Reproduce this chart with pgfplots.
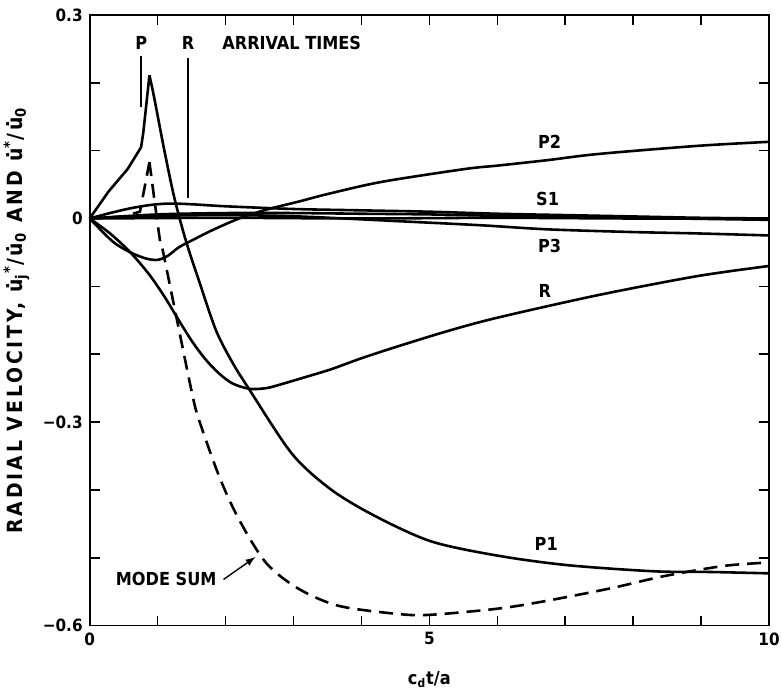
\documentclass[border=0pt]{standalone}
\usepackage{pgfplots}
\pgfplotsset{compat=1.18}
\usepackage{fontspec}
\setmainfont{DejaVu Sans Condensed}[BoldFont={DejaVu Sans Condensed Bold}]
\begin{document}
\begin{tikzpicture}
\begin{axis}[
    scale only axis,
    width=341pt, height=306.5pt,
    xmin=0, xmax=10, ymin=-0.6, ymax=0.3,
    xtick={0,5,10}, minor xtick={1,2,3,4,6,7,8,9},
    ytick={-0.6,-0.3,0,0.3}, minor ytick={-0.5,-0.4,-0.2,-0.1,0.1,0.2},
    yticklabels={−0.6,−0.3,0,0.3},
    tick pos=both, tick align=inside,
    major tick length=5pt, minor tick length=5pt,
    tick style={black, line width=0.8pt},
    axis line style={line width=0.9pt},
    font=\fontsize{9}{10}\selectfont\bfseries,
    ticklabel style={font=\fontsize{8.5}{10}\selectfont\bfseries},
    /pgf/number format/assume math mode=true,
    xlabel={c\textsubscript{d}t/a},
    xlabel style={yshift=-6pt},
    ylabel={\addfontfeature{LetterSpace=14}RADIAL VELOCITY, \.{u}\textsubscript{j}\textsuperscript{*}/\.{u}\textsubscript{0} AND \.{u}\textsuperscript{*}/\.{u}\textsubscript{0}},
    ylabel style={font=\fontsize{10.5}{12}\selectfont\bfseries},
    clip=false,
]
% P1 mode
\addplot[black, line width=1.3pt] coordinates {(0,0) (0.28,0.04) (0.56,0.073) (0.757,0.105) (0.79,0.127) (0.88,0.211)};
\addplot[black, line width=1.3pt, smooth, tension=0.5] coordinates {(0.88,0.211) (0.95,0.178) (1.1,0.10) (1.25,0.029) (1.42,-0.034) (1.61,-0.092) (1.86,-0.165) (2.1,-0.212) (2.35,-0.252) (2.98,-0.347) (3.56,-0.400) (4.21,-0.439) (5.03,-0.476) (6.01,-0.497) (7.04,-0.511) (8.31,-0.520) (9.13,-0.521) (10,-0.523)};
% mode sum
\addplot[black, line width=1.3pt, dash pattern=on 7pt off 4pt] coordinates {(0,0) (0.5,0.003) (0.74,0.01) (0.88,0.083)};
\addplot[black, line width=1.3pt, smooth, tension=0.5, dash pattern=on 7pt off 4pt] coordinates {(0.88,0.083) (1.03,-0.029) (1.07,-0.044) (1.27,-0.142) (1.51,-0.259) (1.61,-0.297) (1.91,-0.381) (2.2,-0.444) (2.6,-0.508) (3.08,-0.546) (3.67,-0.571) (4.55,-0.583) (5.03,-0.584) (6.01,-0.575) (6.7,-0.564) (7.67,-0.545) (8.46,-0.527) (9.34,-0.512) (10,-0.507)};
% R mode
\addplot[black, line width=1.3pt, smooth] coordinates {(0,0) (0.3,-0.022) (0.6,-0.050) (0.88,-0.083) (1.1,-0.115) (1.3,-0.148) (1.5,-0.18) (1.7,-0.207) (1.9,-0.228) (2.1,-0.243) (2.35,-0.251) (2.6,-0.250) (2.83,-0.244) (3.2,-0.233) (3.56,-0.222) (4.0,-0.206) (4.55,-0.188) (5.3,-0.165) (6.01,-0.146) (7.48,-0.113) (8.94,-0.085) (10,-0.070)};
% P2 mode
\addplot[black, line width=1.3pt, smooth] coordinates {(0,0) (0.34,-0.034) (0.6,-0.05) (0.83,-0.059) (1.0,-0.061) (1.15,-0.055) (1.32,-0.042) (1.55,-0.030) (1.81,-0.017) (2.2,0.0) (2.6,0.013) (3.08,0.025) (3.5,0.036) (4.3,0.054) (5.53,0.073) (6.01,0.078) (6.74,0.086) (7.48,0.095) (8.94,0.107) (10,0.113)};
% S1 and neighbours
\addplot[black, line width=1.3pt, smooth] coordinates {(0,0) (0.3,0.008) (0.6,0.015) (0.9,0.02) (1.17,0.022) (1.5,0.021) (2,0.018) (3,0.014) (4,0.012) (5,0.01) (6,0.007) (7,0.005) (8,0.003) (9,0.001) (10,0)};
\addplot[black, line width=1.3pt, smooth] coordinates {(0,0) (1,0.006) (2,0.008) (3,0.008) (4,0.007) (5,0.006) (6,0.004) (7,0.003) (8,0.001) (10,-0.002)};
\addplot[black, line width=1.3pt, smooth] coordinates {(0,0) (2,0.001) (4,0.0) (6,0.001) (8,0.0) (10,0.0)};
% P3 mode
\addplot[black, line width=1.3pt, smooth] coordinates {(0,0) (0.5,0.002) (1,0.004) (2,0.005) (3.08,0.003) (4.55,-0.004) (5.76,-0.01) (6.74,-0.016) (8,-0.020) (8.94,-0.022) (10,-0.025)};
% arrival time markers
\addplot[black, line width=0.9pt] coordinates {(0.76,0.239) (0.76,0.165)};
\addplot[black, line width=0.9pt] coordinates {(1.45,0.236) (1.45,0.03)};
\node at (axis cs:0.76,0.259) {P};
\node at (axis cs:1.45,0.259) {R};
\node[anchor=west] at (axis cs:1.85,0.259) {ARRIVAL TIMES};
\node at (axis cs:6.77,0.113) {P2};
\node at (axis cs:6.74,0.029) {S1};
\node at (axis cs:6.77,-0.040) {P3};
\node at (axis cs:6.70,-0.107) {R};
\node at (axis cs:6.72,-0.480) {P1};
\node[anchor=east] (ms) at (axis cs:1.97,-0.532) {MODE SUM};
\draw[-latex, line width=0.7pt] (ms.east) -- (axis cs:2.44,-0.499);
\end{axis}
\pgfresetboundingbox
\path ([xshift=-45pt,yshift=-32pt]current axis.south west) rectangle ([xshift=6pt,yshift=7.5pt]current axis.north east);
\end{tikzpicture}
\end{document}
